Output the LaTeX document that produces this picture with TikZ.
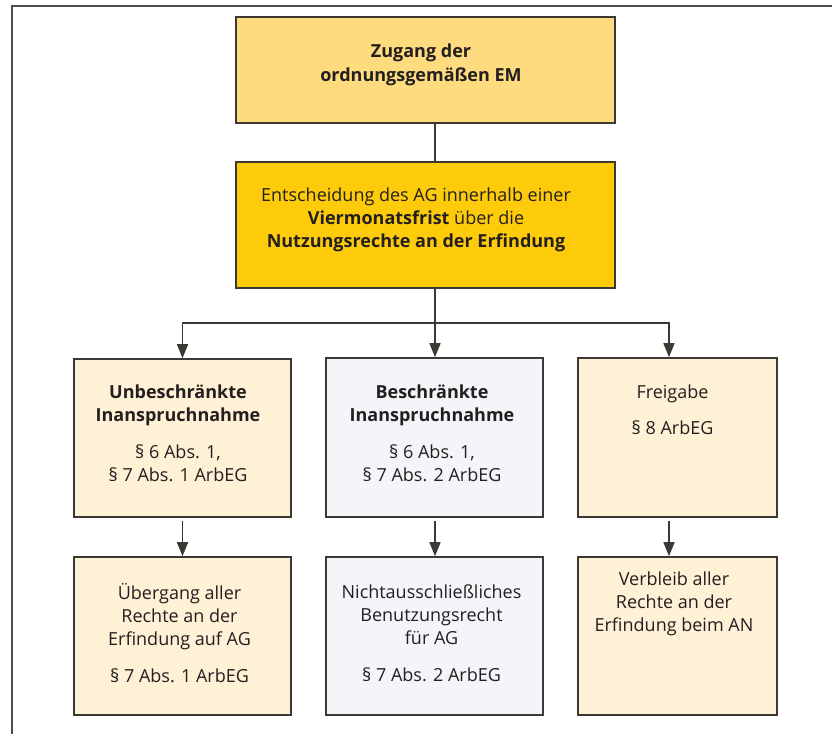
\documentclass[tikz,border=0pt]{standalone}
\usepackage{fontspec}
\setmainfont{Open Sans}
\usetikzlibrary{arrows.meta}
\definecolor{topfill}{HTML}{FDDB7E}
\definecolor{decfill}{HTML}{FECB0B}
\definecolor{lightfill}{HTML}{FEF1D5}
\definecolor{grayfill}{HTML}{F4F5F8}
\definecolor{bordercol}{HTML}{3C3833}
\definecolor{txtcol}{HTML}{231F20}
\newcommand\txtlines[1]{{\setlength\tabcolsep{0pt}\begin{tabular}[t]{c}#1\end{tabular}}}
\begin{document}
\begin{tikzpicture}[x=1pt,y=1pt,
  boxnode/.style={draw=bordercol, line width=1.6pt, rectangle, inner sep=0pt},
  txt/.style={anchor=base, inner sep=0pt, text=txtcol, font=\fontsize{18}{23}\selectfont},
  conn/.style={draw=bordercol, line width=1.5pt},
  arr/.style={conn, -{Triangle[width=11pt,length=14pt]}}]
\useasboundingbox (0,0) rectangle (832,734);
% frame
\draw[line width=2pt, draw=bordercol!90] (11.5,0) -- (11.5,728) -- (832,728);
% boxes
\node[boxnode, fill=topfill, minimum width=379pt, minimum height=106pt] (top) at (425.5,664) {};
\node[boxnode, fill=decfill, minimum width=379pt, minimum height=126pt] (dec) at (425.5,509) {};
\node[boxnode, fill=lightfill, minimum width=217pt, minimum height=158pt] (b1) at (182.5,296) {};
\node[boxnode, fill=grayfill, minimum width=217pt, minimum height=159pt] (b2) at (434.5,296.5) {};
\node[boxnode, fill=lightfill, minimum width=199pt, minimum height=159pt] (b3) at (677.5,296.5) {};
\node[boxnode, fill=lightfill, minimum width=217pt, minimum height=158pt] (c1) at (182.5,98) {};
\node[boxnode, fill=grayfill, minimum width=217pt, minimum height=158pt] (c2) at (434.5,98) {};
\node[boxnode, fill=lightfill, minimum width=199pt, minimum height=158pt] (c3) at (677.5,98) {};
% texts
\node[txt] (ttop) at (421,676.5) {\txtlines{\textbf{Zugang der}\\[1pt]\textbf{ordnungsgemäßen EM}}};
\node[txt] (tdec) at (416,532) {\txtlines{Entscheidung des AG innerhalb einer\\\textbf{Viermonatsfrist} über die\\\textbf{Nutzungsrechte an der Erfindung}}};
\node[txt] (tb1) at (178,335) {\txtlines{\textbf{Unbeschränkte}\\\textbf{Inanspruchnahme}\\[14pt]§ 6 Abs. 1,\\§ 7 Abs. 1 ArbEG}};
\node[txt] (tb2) at (432,335) {\txtlines{\textbf{Beschränkte}\\\textbf{Inanspruchnahme}\\[14pt]§ 6 Abs. 1,\\§ 7 Abs. 2 ArbEG}};
\node[txt] (tb3) at (672.5,335) {\txtlines{Freigabe\\[13pt]§ 8 ArbEG}};
\node[txt] (tc1) at (179.5,135) {\txtlines{Übergang aller\\Rechte an der\\Erfindung auf AG\\[14pt]§ 7 Abs. 1 ArbEG}};
\node[txt] (tc2) at (431.5,136) {\txtlines{Nichtausschließliches\\Benutzungsrecht\\für AG\\[14pt]§ 7 Abs. 2 ArbEG}};
\node[txt] (tc3) at (674,149) {\txtlines{Verbleib aller\\Rechte an der\\Erfindung beim AN}};
% connectors
\coordinate (sp) at (435,411);
\draw[conn] (top.south -| sp) -- (dec.north -| sp);
\draw[conn] (dec.south -| sp) -- (sp);
\draw[arr] (sp) -- (b2.north -| sp);
\draw[arr] (sp) -| (b1.north);
\draw[arr] (sp) -| ([xshift=-8.5pt]b3.north);
\draw[arr] ([yshift=-3pt]b1.south) -- (c1.north);
\draw[arr] ([yshift=-3pt]b2.south -| sp) -- (c2.north -| sp);
\draw[arr] ([xshift=-8.5pt,yshift=-3pt]b3.south) -- ([xshift=-8.5pt]c3.north);
\end{tikzpicture}
\end{document}
